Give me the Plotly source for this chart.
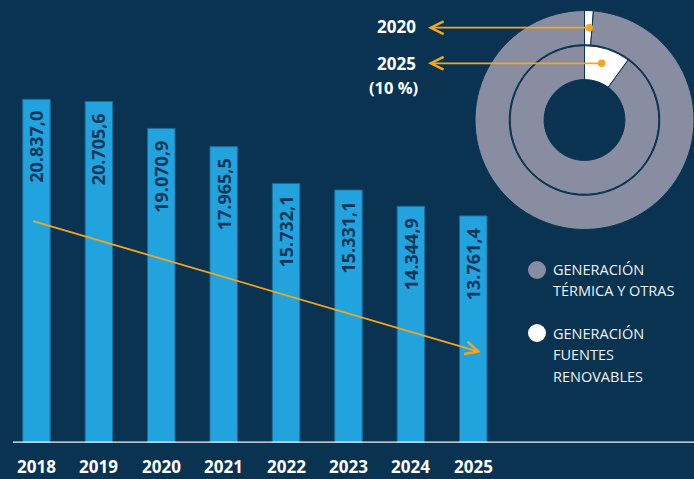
import plotly.graph_objects as go

# ---------------- data ----------------
years = ["2018", "2019", "2020", "2021", "2022", "2023", "2024", "2025"]
values = [20837.0, 20705.6, 19070.9, 17965.5, 15732.1, 15331.1, 14344.9, 13761.4]

ring_labels = ["GENERACIÓN FUENTES RENOVABLES", "GENERACIÓN TÉRMICA Y OTRAS"]
share_2020 = [1.3, 98.7]
share_2025 = [10.0, 90.0]

legend_lines_thermal = ["GENERACIÓN", "TÉRMICA Y OTRAS"]
legend_lines_renew = ["GENERACIÓN", "FUENTES", "RENOVABLES"]

# ---------------- style ----------------
W, H = 694, 479
BG = "#0a3351"
BAR = "#22a3de"
BAR_EDGE = "#1b6c9c"
NAVY_TXT = "#0b3658"
ORANGE = "#f5a51e"
GRAY = "#898da2"
FONT = "Open Sans"


def px_x(p):
    return p / W


def px_y(p):
    return 1 - p / H


def es_fmt(v):
    s = f"{v:,.1f}"
    return s.replace(",", "X").replace(".", ",").replace("X", ".")


idx = list(range(len(years)))

fig = go.Figure()

fig.add_trace(go.Bar(
    x=idx, y=values,
    marker=dict(color=BAR, line=dict(color=BAR_EDGE, width=1)),
    showlegend=False, hoverinfo="skip",
))

# donut rings
fig.add_trace(go.Pie(
    labels=ring_labels, values=share_2020,
    hole=0.6875, sort=False, direction="clockwise", rotation=0,
    marker=dict(colors=["#ffffff", GRAY], line=dict(color=BG, width=1)),
    textinfo="none", showlegend=False, hoverinfo="skip",
    domain=dict(x=[px_x(475), 1.0], y=[px_y(229.5), px_y(10.5)]),
))
fig.add_trace(go.Pie(
    labels=ring_labels, values=share_2025,
    hole=0.544, sort=False, direction="clockwise", rotation=0,
    marker=dict(colors=["#ffffff", GRAY], line=dict(color=BG, width=1)),
    textinfo="none", showlegend=False, hoverinfo="skip",
    domain=dict(x=[px_x(510.2), px_x(658.8)], y=[px_y(194.3), px_y(45.7)]),
))

annotations = []
# value labels inside bars
for i, v in zip(idx, values):
    annotations.append(dict(
        x=i, y=v, xref="x", yref="y", text=f"<b>{es_fmt(v)}</b>",
        textangle=-90, showarrow=False, yanchor="top", xanchor="center",
        yshift=-10, font=dict(family=FONT, size=18, color=NAVY_TXT),
    ))
# year labels
for i, yr in zip(idx, years):
    annotations.append(dict(
        x=i, y=px_y(466.5), xref="x", yref="paper", text=f"<b>{yr}</b>",
        showarrow=False, yanchor="middle", xanchor="center",
        font=dict(family=FONT, size=17, color="#ffffff"),
    ))

# trend arrow
annotations.append(dict(
    x=7.12, y=5485, xref="x", yref="y",
    ax=-0.077, ay=13471, axref="x", ayref="y",
    showarrow=True, arrowhead=5, arrowsize=1.4, arrowwidth=1.8,
    arrowcolor=ORANGE, text="",
))

# top arrows pointing to labels
for ylab, xdot in [(27.7, 589.3), (63.3, 601.7)]:
    annotations.append(dict(
        x=px_x(428), y=px_y(ylab), xref="paper", yref="paper",
        ax=xdot - 428, ay=0, axref="pixel", ayref="pixel",
        showarrow=True, arrowhead=5, arrowsize=1.4, arrowwidth=1.8,
        arrowcolor=ORANGE, text="",
    ))

annotations.append(dict(x=px_x(418), y=px_y(26.7), xref="paper", yref="paper",
                        text="<b>2020</b>", showarrow=False, xanchor="right",
                        yanchor="middle", font=dict(family=FONT, size=17, color="#ffffff")))
annotations.append(dict(x=px_x(418), y=px_y(63.3), xref="paper", yref="paper",
                        text="<b>2025</b>", showarrow=False, xanchor="right",
                        yanchor="middle", font=dict(family=FONT, size=17, color="#ffffff")))
annotations.append(dict(x=px_x(420), y=px_y(87.5), xref="paper", yref="paper",
                        text="<b>(10 %)</b>", showarrow=False, xanchor="right",
                        yanchor="middle", font=dict(family=FONT, size=16.5, color="#ffffff")))

# legend text
LEG_FONT = dict(family=FONT, size=14.5, color="#eef2f6")
for i, line in enumerate(legend_lines_thermal):
    annotations.append(dict(x=px_x(551), y=px_y(269 + 21 * i), xref="paper", yref="paper",
                            text=line, showarrow=False, xanchor="left", yanchor="middle",
                            font=LEG_FONT))
for i, line in enumerate(legend_lines_renew):
    annotations.append(dict(x=px_x(551), y=px_y(333 + 21.5 * i), xref="paper", yref="paper",
                            text=line, showarrow=False, xanchor="left", yanchor="middle",
                            font=LEG_FONT))

shapes = [
    # baseline
    dict(type="line", xref="paper", yref="y", x0=px_x(13), x1=1.0, y0=0, y1=0,
         line=dict(color="#f2f2f2", width=2.2), layer="above"),
    # dots at the arrow tails
    dict(type="circle", xref="paper", yref="paper",
         x0=px_x(589.3 - 3.8), x1=px_x(589.3 + 3.8), y0=px_y(27.7 + 3.8), y1=px_y(27.7 - 3.8),
         fillcolor=ORANGE, line=dict(width=0)),
    dict(type="circle", xref="paper", yref="paper",
         x0=px_x(601.7 - 3.8), x1=px_x(601.7 + 3.8), y0=px_y(63.3 + 3.8), y1=px_y(63.3 - 3.8),
         fillcolor=ORANGE, line=dict(width=0)),
    # legend markers
    dict(type="circle", xref="paper", yref="paper",
         x0=px_x(528), x1=px_x(546), y0=px_y(279), y1=px_y(261),
         fillcolor=GRAY, line=dict(width=0)),
    dict(type="circle", xref="paper", yref="paper",
         x0=px_x(528), x1=px_x(546), y0=px_y(342), y1=px_y(324),
         fillcolor="#ffffff", line=dict(width=0)),
]

y_top = 442.7 / 0.01648

fig.update_layout(
    width=W, height=H,
    margin=dict(l=0, r=0, t=0, b=0),
    paper_bgcolor=BG, plot_bgcolor=BG,
    bargap=0.56,
    xaxis=dict(domain=[px_x(5.3), px_x(504.5)], range=[-0.5, 7.5],
               showticklabels=False, showgrid=False, zeroline=False, showline=False,
               ticks=""),
    yaxis=dict(domain=[1 - 442.7 / H, 1], range=[0, y_top], showticklabels=False,
               showgrid=False, zeroline=False, showline=False, ticks=""),
    annotations=annotations,
    shapes=shapes,
    showlegend=False,
)

fig.write_html("out.html",
               config={"displayModeBar": False, "staticPlot": True},
               post_script="document.body.style.margin='0';document.body.style.overflow='hidden';")
